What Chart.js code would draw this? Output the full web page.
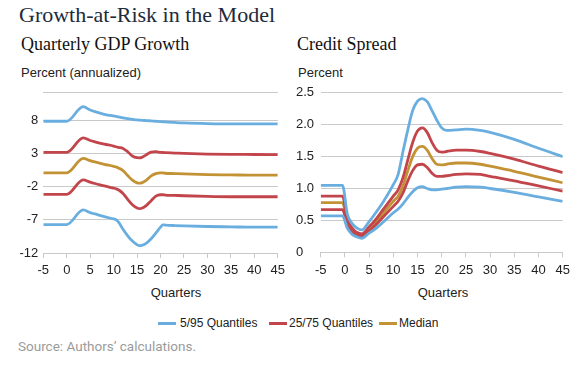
<!DOCTYPE html>
<html>
<head>
<meta charset="utf-8">
<script src="https://cdn.jsdelivr.net/npm/chart.js@4.4.1/dist/chart.umd.min.js"></script>
<style>
    body { margin: 0; background: #fff; width: 585px; height: 365px; position: relative; overflow: hidden; }
    .t { position: absolute; white-space: nowrap; }
    .title { left: 19px; top: 2px; font: 22px "Liberation Serif", serif; color: #1d2b3a; }
    .sub { top: 34px; font: 18px "Liberation Serif", serif; color: #111; }
    .unit { top: 65px; font: 13px "Liberation Sans", Arial, sans-serif; color: #222; }
    .xt { top: 285px; font: 13px "Liberation Sans", Arial, sans-serif; color: #222; transform: translateX(-50%); }
    .leg { top: 316px; font: 12px "Liberation Sans", Arial, sans-serif; color: #222; }
    .sw { position: absolute; height: 3px; top: 322px; }
    .src { left: 18px; top: 338px; font: 13.5px Roboto, sans-serif; color: #9b9b9b; }
    canvas { position: absolute; }
</style>
</head>
<body>
<div class="t title">Growth-at-Risk in the Model</div>
<div class="t sub" style="left:21px">Quarterly GDP Growth</div>
<div class="t sub" style="left:297px">Credit Spread</div>
<div class="t unit" style="left:21px">Percent (annualized)</div>
<div class="t unit" style="left:298px">Percent</div>

<div style="position:absolute;left:0;top:80px;width:290px;height:205px"><canvas id="gdp"></canvas></div>
<div style="position:absolute;left:290px;top:80px;width:295px;height:205px"><canvas id="spread"></canvas></div>

<div class="t xt" style="left:176px">Quarters</div>
<div class="t xt" style="left:443px">Quarters</div>

<div class="sw" style="left:158px;width:18px;background:#6aaee0"></div>
<div class="t leg" style="left:180px">5/95 Quantiles</div>
<div class="sw" style="left:269px;width:18px;background:#c2454b"></div>
<div class="t leg" style="left:289px">25/75 Quantiles</div>
<div class="sw" style="left:379px;width:18px;background:#c39234"></div>
<div class="t leg" style="left:399px">Median</div>

<div class="t src">Source: Authors’ calculations.</div>

<script>
// quarters since the shock
const gdpQuarters = [-5, 0, 3.5, 5, 6, 8, 10, 10.5, 11, 12, 13, 14, 15, 15.5, 16, 17, 18, 19, 20, 20.5, 21, 23, 25, 30, 35, 40, 45]
const gdpQ95 = [7.9, 7.9, 10.1, 9.6, 9.35, 8.95, 8.7, 8.65, 8.55, 8.4, 8.3, 8.2, 8.1, 8.08, 8.05, 8.0, 7.95, 7.9, 7.85, 7.83, 7.8, 7.72, 7.65, 7.55, 7.5, 7.5, 7.5]
const gdpQ75 = [3.2, 3.2, 5.4, 5.0, 4.8, 4.45, 4.15, 4.05, 3.95, 3.8, 3.3, 2.65, 2.4, 2.38, 2.45, 2.85, 3.25, 3.3, 3.2, 3.18, 3.15, 3.1, 3.05, 2.95, 2.9, 2.88, 2.85]
const gdpQ50 = [0.1, 0.1, 2.3, 1.95, 1.75, 1.4, 1.1, 1.0, 0.85, 0.45, -0.3, -1.0, -1.4, -1.45, -1.4, -1.0, -0.35, 0.0, 0.1, 0.1, 0.05, 0.0, -0.05, -0.15, -0.2, -0.25, -0.25]
const gdpQ25 = [-3.15, -3.15, -0.95, -1.3, -1.5, -1.85, -2.2, -2.3, -2.45, -3.0, -3.9, -4.7, -5.2, -5.3, -5.25, -4.8, -4.1, -3.4, -3.2, -3.2, -3.25, -3.3, -3.35, -3.45, -3.5, -3.5, -3.5]
const gdpQ5 = [-7.7, -7.7, -5.5, -5.9, -6.1, -6.5, -6.85, -6.95, -7.3, -8.4, -9.4, -10.2, -10.75, -10.9, -10.85, -10.5, -9.85, -9.0, -8.1, -7.75, -7.78, -7.85, -7.9, -8.0, -8.05, -8.1, -8.1]
const gdpTicks = [-12, -7, -2, 3, 8]

const spreadQuarters = [-5, -0.5, 0.5, 1.5, 2.5, 3.5, 5, 6, 8, 10, 11, 12, 13, 14, 15, 16, 17, 18, 19, 20, 21, 23, 25, 28, 30, 35, 40, 45]
const spreadQ95 = [1.05, 1.05, 0.6, 0.45, 0.38, 0.35, 0.48, 0.58, 0.8, 1.06, 1.22, 1.58, 1.92, 2.22, 2.37, 2.41, 2.36, 2.22, 2.07, 1.95, 1.91, 1.92, 1.93, 1.91, 1.88, 1.77, 1.63, 1.5]
const spreadQ75 = [0.88, 0.88, 0.52, 0.38, 0.31, 0.29, 0.4, 0.48, 0.68, 0.88, 0.98, 1.17, 1.45, 1.72, 1.9, 1.95, 1.88, 1.72, 1.6, 1.57, 1.58, 1.6, 1.6, 1.58, 1.55, 1.46, 1.35, 1.25]
const spreadQ50 = [0.78, 0.78, 0.47, 0.34, 0.29, 0.27, 0.36, 0.44, 0.62, 0.8, 0.88, 1.04, 1.28, 1.5, 1.63, 1.66, 1.6, 1.47, 1.38, 1.37, 1.38, 1.4, 1.4, 1.38, 1.35, 1.27, 1.18, 1.09]
const spreadQ25 = [0.67, 0.67, 0.43, 0.32, 0.27, 0.25, 0.33, 0.4, 0.56, 0.72, 0.8, 0.93, 1.12, 1.28, 1.37, 1.38, 1.33, 1.24, 1.19, 1.19, 1.2, 1.22, 1.23, 1.22, 1.19, 1.12, 1.04, 0.96]
const spreadQ5 = [0.57, 0.57, 0.38, 0.28, 0.24, 0.22, 0.3, 0.35, 0.48, 0.62, 0.68, 0.76, 0.86, 0.95, 1.01, 1.03, 1.0, 0.98, 0.98, 0.99, 1.0, 1.02, 1.03, 1.02, 1.0, 0.94, 0.87, 0.8]
const spreadTicks = [0, 0.5, 1.0, 1.5, 2.0, 2.5]

const xTicks = [-5, 0, 5, 10, 15, 20, 25, 30, 35, 40, 45]

const BLUE = '#6aaee0'
const RED = '#c2454b'
const GOLD = '#c39234'
const GRID = '#c9c9c9'
const FONT = {family: '"Liberation Sans", Arial, sans-serif', size: 13}

function series(quarters, values, color) {
    return {
        data: quarters.map((q, i) => ({x: q, y: values[i]})),
        borderColor: color,
        borderWidth: 2.8,
        pointRadius: 0,
        cubicInterpolationMode: 'monotone',
        fill: false
    }
}

function makeChart(id, cfg) {
    return new Chart(document.getElementById(id), {
        type: 'line',
        data: {datasets: cfg.datasets},
        options: {
            responsive: true,
            maintainAspectRatio: false,
            animation: false,
            layout: {padding: cfg.padding},
            plugins: {legend: {display: false}, tooltip: {enabled: false}},
            scales: {
                x: {
                    type: 'linear',
                    min: -5,
                    max: 45,
                    afterBuildTicks: s => { s.ticks = xTicks.map(v => ({value: v})) },
                    afterFit: s => { s.height = cfg.xHeight },
                    ticks: {font: FONT, color: '#222', padding: 5, maxRotation: 0},
                    grid: {drawOnChartArea: false, drawTicks: true, tickLength: 5, color: GRID},
                    border: {display: true, color: GRID}
                },
                y: {
                    min: cfg.min,
                    max: cfg.max,
                    afterBuildTicks: s => { s.ticks = cfg.ticks.map(v => ({value: v})) },
                    afterFit: s => { s.width = cfg.yWidth },
                    ticks: {font: FONT, color: '#222', padding: 5, crossAlign: cfg.align, callback: cfg.label},
                    grid: {drawTicks: false, color: GRID, lineWidth: 1},
                    border: {display: false}
                }
            }
        }
    })
}

makeChart('gdp', {
    datasets: [
        series(gdpQuarters, gdpQ95, BLUE),
        series(gdpQuarters, gdpQ5, BLUE),
        series(gdpQuarters, gdpQ75, RED),
        series(gdpQuarters, gdpQ25, RED),
        series(gdpQuarters, gdpQ50, GOLD)
    ],
    min: -12,
    max: 12.2,
    ticks: gdpTicks.concat([12.2]),  // top line has no label
    label: v => gdpTicks.includes(v) ? String(v) : '',
    align: 'near',
    padding: {top: 11, right: 9, left: 0, bottom: 0},
    yWidth: 43.3,
    xHeight: 32
})

makeChart('spread', {
    datasets: [
        series(spreadQuarters, spreadQ95, BLUE),
        series(spreadQuarters, spreadQ5, BLUE),
        series(spreadQuarters, spreadQ75, RED),
        series(spreadQuarters, spreadQ25, RED),
        series(spreadQuarters, spreadQ50, GOLD)
    ],
    min: 0,
    max: 2.5,
    ticks: spreadTicks,
    label: v => v === 0 ? '0' : v.toFixed(1),
    align: 'far',
    padding: {top: 11.7, right: 22.3, left: 6, bottom: 0},
    yWidth: 24.7,
    xHeight: 32.7
})
</script>
</body>
</html>
